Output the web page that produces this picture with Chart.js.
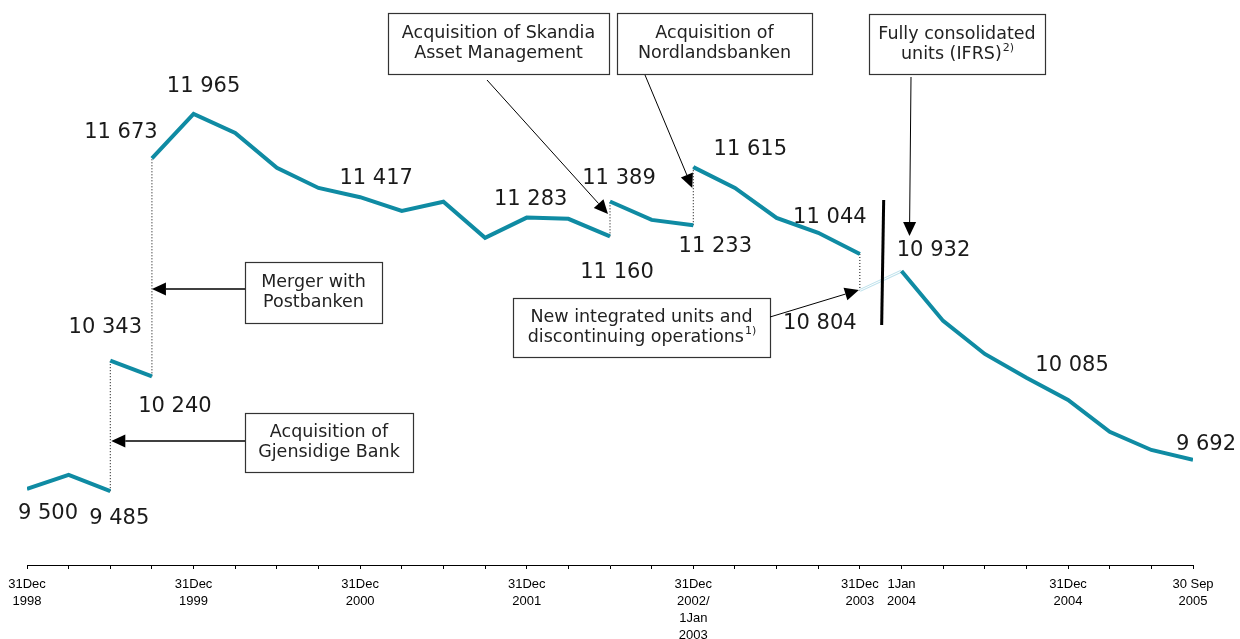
<!DOCTYPE html>
<html><head><meta charset="utf-8">
<script src="https://cdn.jsdelivr.net/npm/chart.js@4/dist/chart.umd.min.js"></script>
<style>html,body{margin:0;padding:0;background:#fff}canvas{display:block}</style>
</head><body>
<canvas id="c" width="1240" height="639"></canvas>
<script>
// ---- tick labels (quarterly positions 0..28) ----
const tickLabels = [
  ["31Dec","1998"], "", "", "",
  ["31Dec","1999"], "", "", "",
  ["31Dec","2000"], "", "", "",
  ["31Dec","2001"], "", "", "",
  ["31Dec","2002/","1Jan","2003"], "", "", "",
  ["31Dec","2003"], ["1Jan","2004"], "", "", "",
  ["31Dec","2004"], "", "",
  ["30 Sep","2005"]
];

// ---- series segments (start index + values) ----
const segAStart = 0;  const segA = [9500, 9592, 9485];
const segBStart = 2;  const segB = [10343, 10240];
const segCStart = 3;  const segC = [11673, 11965, 11840, 11610, 11478, 11417, 11327, 11387, 11150, 11283, 11275, 11160];
const segDStart = 14; const segD = [11389, 11268, 11233];
const segEStart = 16; const segE = [11615, 11478, 11281, 11183, 11044];
const linkStart = 20; const linkValues = [10804, 10932];
const segFStart = 21; const segF = [10932, 10604, 10387, 10230, 10085, 9875, 9756, 9692];

const SEGS = {
  A:{start:segAStart, values:segA}, B:{start:segBStart, values:segB},
  C:{start:segCStart, values:segC}, D:{start:segDStart, values:segD},
  E:{start:segEStart, values:segE}, L:{start:linkStart, values:linkValues},
  F:{start:segFStart, values:segF}
};
const pts = s => s.values.map((v,i)=>({x:s.start+i, y:v}));
const first = s => ({x:s.start, y:s.values[0]});
const last = s => ({x:s.start+s.values.length-1, y:s.values[s.values.length-1]});

const TEAL = '#0f8ba3';
const lineDs = (s) => ({data:pts(s), borderColor:TEAL, borderWidth:4, pointRadius:0, tension:0, borderCapStyle:'butt', borderJoinStyle:'miter', fill:false});
const dotDs = (a,b) => ({data:[a,b], borderColor:'#000', borderWidth:1, borderDash:[1,2], pointRadius:0, fill:false});

const datasets = [
  lineDs(SEGS.A), lineDs(SEGS.B), lineDs(SEGS.C), lineDs(SEGS.D), lineDs(SEGS.E), lineDs(SEGS.F),
  {data:pts(SEGS.L), borderColor:'#ffffff', borderWidth:1, pointRadius:0, fill:false},
  {data:pts(SEGS.L), borderColor:'#bfe2ec', borderWidth:3, pointRadius:0, fill:false},
  dotDs(last(SEGS.A), first(SEGS.B)),
  dotDs(last(SEGS.B), first(SEGS.C)),
  dotDs(last(SEGS.C), first(SEGS.D)),
  dotDs(last(SEGS.D), first(SEGS.E)),
  dotDs(last(SEGS.E), first(SEGS.L))
];

// ---- value label layout (offsets from point, px) ----
const labelLayout = [
  {s:'A', i:0, dx:21, dy:25}, {s:'A', i:2, dx:9, dy:27},
  {s:'B', i:0, dx:-5, dy:-33}, {s:'B', i:1, dx:23, dy:30},
  {s:'C', i:0, dx:-31, dy:-26}, {s:'C', i:1, dx:10, dy:-27},
  {s:'C', i:5, dx:16, dy:-19}, {s:'C', i:9, dx:4, dy:-18},
  {s:'C', i:11, dx:7, dy:36},
  {s:'D', i:0, dx:9, dy:-23}, {s:'D', i:2, dx:22, dy:21},
  {s:'E', i:0, dx:57, dy:-18}, {s:'E', i:4, dx:-30, dy:-36},
  {s:'L', i:0, dx:-40, dy:33},
  {s:'F', i:0, dx:32, dy:-20}, {s:'F', i:4, dx:4, dy:-34}, {s:'F', i:7, dx:13, dy:-15}
];
const fmt = v => { const s = String(v); return s.slice(0, s.length-3) + ' ' + s.slice(-3); };

// ---- annotation boxes (pixel layout) ----
const boxes = [
  {r:[388,13,609,74], lines:[[{t:'Acquisition of Skandia'}],[{t:'Asset Management'}]]},
  {r:[617,13,812,74], lines:[[{t:'Acquisition of'}],[{t:'Nordlandsbanken'}]]},
  {r:[869,14,1045,74], lines:[[{t:'Fully consolidated'}],[{t:'units (IFRS)'},{t:'2)',sup:true}]]},
  {r:[245,262,382,323], lines:[[{t:'Merger with'}],[{t:'Postbanken'}]]},
  {r:[245,413,413,472], lines:[[{t:'Acquisition of'}],[{t:'Gjensidige Bank'}]]},
  {r:[513,298,770,357], lines:[[{t:'New integrated units and'}],[{t:'discontinuing operations'},{t:'1)',sup:true}]]}
];
// arrows: start pixel, tip x as axis index (+px), tip y pixel
const arrows = [
  {x0:487, y0:80, ti:14, tdx:-2, ty:214, lw:1},
  {x0:645, y0:75, ti:16, tdx:-1, ty:188, lw:1},
  {x0:911, y0:77, ti:21, tdx:8, ty:236, lw:1},
  {x0:770, y0:317, ti:20, tdx:-1, ty:290, lw:1},
  {x0:245, y0:289, ti:3, tdx:0, ty:289, lw:1.6},
  {x0:245, y0:441, ti:2, tdx:1, ty:441, lw:1.6}
];

function drawArrow(ctx, x0, y0, x1, y1, lw){
  const a = Math.atan2(y1-y0, x1-x0), L = 14, W = 6.5;
  const bx = x1 - L*Math.cos(a), by = y1 - L*Math.sin(a);
  ctx.strokeStyle = '#000'; ctx.lineWidth = lw;
  ctx.beginPath(); ctx.moveTo(x0,y0); ctx.lineTo(bx,by); ctx.stroke();
  ctx.fillStyle = '#000';
  ctx.beginPath(); ctx.moveTo(x1,y1);
  ctx.lineTo(bx + W*Math.sin(a), by - W*Math.cos(a));
  ctx.lineTo(bx - W*Math.sin(a), by + W*Math.cos(a));
  ctx.closePath(); ctx.fill();
}

const BOXFONT = '17.5px "DejaVu Sans"', SUPFONT = '11px "DejaVu Sans"';
const annot = {
  id:'annot',
  afterDatasetsDraw(chart){
    const {ctx, scales:{x, y}} = chart;
    ctx.save();
    // separator
    const sx = (x.getPixelForValue(20) + x.getPixelForValue(21))/2 + 2;
    ctx.strokeStyle = '#000'; ctx.lineWidth = 3;
    ctx.beginPath(); ctx.moveTo(sx+1, 200); ctx.lineTo(sx-1, 325); ctx.stroke();
    // value labels
    ctx.font = '21px "DejaVu Sans"'; ctx.fillStyle = '#1a1a1a';
    ctx.textAlign = 'center'; ctx.textBaseline = 'middle';
    for (const L of labelLayout){
      const s = SEGS[L.s], v = s.values[L.i];
      ctx.fillText(fmt(v), x.getPixelForValue(s.start+L.i)+L.dx, y.getPixelForValue(v)+L.dy);
    }
    // boxes
    for (const b of boxes){
      const [x0,y0,x1,y1] = b.r;
      ctx.fillStyle = '#fff'; ctx.fillRect(x0,y0,x1-x0,y1-y0);
      ctx.strokeStyle = '#333'; ctx.lineWidth = 1.2;
      ctx.strokeRect(x0+0.5,y0+0.5,x1-x0,y1-y0);
      const cy = (y0+y1)/2, cx = (x0+x1)/2;
      b.lines.forEach((parts, li) => {
        const ly = cy + (li - (b.lines.length-1)/2)*20;
        let w = 0;
        parts.forEach(p => { ctx.font = p.sup ? SUPFONT : BOXFONT; p.w = ctx.measureText(p.t).width; w += p.w; });
        let px = cx - w/2;
        ctx.textAlign = 'left'; ctx.fillStyle = '#222';
        parts.forEach(p => {
          ctx.font = p.sup ? SUPFONT : BOXFONT;
          ctx.fillText(p.t, px + (p.sup ? 1 : 0), p.sup ? ly-6 : ly);
          px += p.w;
        });
      });
    }
    // arrows
    for (const a of arrows){
      drawArrow(ctx, a.x0, a.y0, x.getPixelForValue(a.ti)+a.tdx, a.ty, a.lw);
    }
    ctx.restore();
  }
};

new Chart(document.getElementById('c'), {
  type:'line',
  data:{datasets},
  options:{
    responsive:false, animation:false,
    layout:{padding:{left:27, right:47, top:2, bottom:0}},
    plugins:{legend:{display:false}, tooltip:{enabled:false}},
    scales:{
      x:{type:'linear', min:0, max:28, offset:false,
        afterFit(s){ s.height = 74; },
        border:{display:true, color:'#000', width:1},
        grid:{display:true, drawOnChartArea:false, drawTicks:true, tickLength:4, color:'#000', lineWidth:1},
        ticks:{stepSize:1, autoSkip:false, maxRotation:0, minRotation:0, padding:7, color:'#000',
          font:{family:'"Liberation Sans", Arial, sans-serif', size:13, lineHeight:1.31},
          callback:(v)=> tickLabels[Math.round(v)] ?? ''}
      },
      y:{display:false, min:9000, max:12700}
    }
  },
  plugins:[annot]
});
</script>
</body></html>
